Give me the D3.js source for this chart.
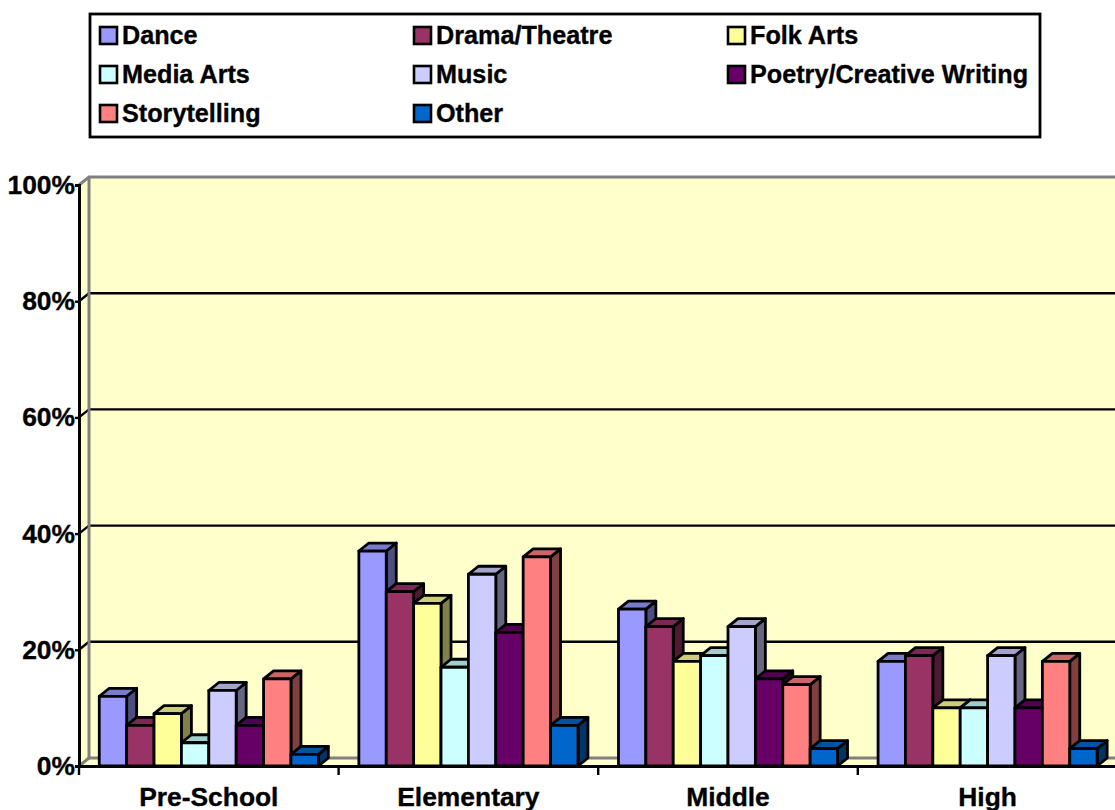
<!DOCTYPE html>
<html>
<head>
<meta charset="utf-8">
<script src="https://cdnjs.cloudflare.com/ajax/libs/d3/7.8.5/d3.min.js"></script>
<style>
body { margin: 0; background: #fff; }
svg { display: block; }
text { font-family: "Liberation Sans", Arial, sans-serif; font-weight: bold; fill: #000; stroke: #000; stroke-width: 0.35px; }
</style>
</head>
<body>
<script>
var levels = ["Pre-School", "Elementary", "Middle", "High"];
var seriesNames = ["Dance", "Drama/Theatre", "Folk Arts", "Media Arts", "Music", "Poetry/Creative Writing", "Storytelling", "Other"];
var seriesColors = ["#9999ff", "#993366", "#ffff99", "#ccffff", "#ccccff", "#660066", "#ff8080", "#0066cc"];
var dance = [12, 37, 27, 18];
var drama = [7, 30, 24, 19];
var folkArts = [9, 28, 18, 10];
var mediaArts = [4, 17, 19, 10];
var music = [13, 33, 24, 19];
var poetry = [7, 23, 15, 10];
var storytelling = [15, 36, 14, 18];
var other = [2, 7, 3, 3];
var yTicks = [0, 20, 40, 60, 80, 100];

var values = [dance, drama, folkArts, mediaArts, music, poetry, storytelling, other];

var width = 1115, height = 810;
var plotLeft = 79, plotRight = 1117.4, plotBottom = 766, plotTop = 185;
var depthX = 10, depthY = 8; // the fake 3d offset

var x = d3.scaleBand().domain(levels).range([plotLeft, plotRight]);
var x1 = d3.scaleBand().domain(seriesNames).range([0, x.bandwidth()]).paddingOuter(0.74);
var y = d3.scaleLinear().domain([0, 100]).range([plotBottom, plotTop]);

var svg = d3.select("body").append("svg")
    .attr("width", width)
    .attr("height", height);

// walls
svg.append("rect")
    .attr("x", plotLeft + depthX)
    .attr("y", plotTop - depthY)
    .attr("width", width - plotLeft - depthX)
    .attr("height", plotBottom - plotTop)
    .attr("fill", "#ffffcc");

svg.append("path")
    .attr("d", "M" + plotLeft + "," + plotTop + "L" + (plotLeft + depthX) + "," + (plotTop - depthY) +
        "V" + (plotBottom - depthY) + "H" + width + "V" + plotBottom + "H" + plotLeft + "Z")
    .attr("fill", "#ffffcc");

// gridlines on the back wall and the stubs on the side wall
svg.selectAll(".grid")
    .data(yTicks.filter(function(d) { return d > 0 && d < 100; }))
    .enter().append("path")
    .attr("class", "grid")
    .attr("d", function(d) {
        return "M" + plotLeft + "," + y(d) + "L" + (plotLeft + depthX) + "," + (y(d) - depthY) + "H" + width;
    })
    .attr("fill", "none")
    .attr("stroke", "#000")
    .attr("stroke-width", 2.4);

// gray edges of the walls
svg.append("path")
    .attr("d", "M" + plotLeft + "," + plotTop + "L" + (plotLeft + depthX) + "," + (plotTop - depthY) + "H" + width)
    .attr("fill", "none")
    .attr("stroke", "#808080")
    .attr("stroke-width", 3);

svg.append("path")
    .attr("d", "M" + (plotLeft + depthX) + "," + (plotTop - depthY) + "V" + (plotBottom - depthY) + "H" + width)
    .attr("fill", "none")
    .attr("stroke", "#808080")
    .attr("stroke-width", 3);

svg.append("path")
    .attr("d", "M" + plotLeft + "," + plotBottom + "L" + (plotLeft + depthX) + "," + (plotBottom - depthY))
    .attr("fill", "none")
    .attr("stroke", "#808080")
    .attr("stroke-width", 3);

// bars, left to right so each one covers the side of the one before
var bars = [];
levels.forEach(function(level, i) {
    seriesNames.forEach(function(name, j) {
        bars.push({level: level, name: name, color: seriesColors[j], value: values[j][i]});
    });
});

var bar = svg.selectAll(".bar")
    .data(bars)
    .enter().append("g")
    .attr("class", "bar")
    .attr("stroke", "#000")
    .attr("stroke-width", 2.8)
    .attr("stroke-linejoin", "round");

function x0(d) { return x(d.level) + x1(d.name); }
function x2(d) { return x0(d) + x1.bandwidth(); }

bar.append("path")
    .attr("d", function(d) {
        return "M" + x2(d) + "," + y(d.value) + "l" + depthX + "," + (-depthY) +
            "V" + (y(0) - depthY) + "L" + x2(d) + "," + y(0) + "Z";
    })
    .attr("fill", function(d) { return d3.interpolateRgb("#000", d.color)(0.5); });

bar.append("path")
    .attr("d", function(d) {
        return "M" + x0(d) + "," + y(d.value) + "l" + depthX + "," + (-depthY) +
            "H" + (x2(d) + depthX) + "L" + x2(d) + "," + y(d.value) + "Z";
    })
    .attr("fill", function(d) { return d3.interpolateRgb("#000", d.color)(0.8); });

bar.append("rect")
    .attr("x", x0)
    .attr("y", function(d) { return y(d.value); })
    .attr("width", x1.bandwidth())
    .attr("height", function(d) { return y(0) - y(d.value); })
    .attr("fill", function(d) { return d.color; });

// axes
var yAxis = d3.axisLeft(y)
    .tickValues(yTicks)
    .tickSize(4)
    .tickPadding(0)
    .tickFormat(function(d) { return d + "%"; });

var yG = svg.append("g")
    .attr("transform", "translate(" + plotLeft + ",0)")
    .call(yAxis);
yG.selectAll("text").style("font-size", "26.4px").attr("dy", ".32em");
yG.selectAll("line").attr("stroke", "#000").attr("stroke-width", 2.4);
yG.select(".domain").attr("stroke", "#000").attr("stroke-width", 3);

var xAxis = d3.axisBottom(x)
    .tickSize(0)
    .tickPadding(21.5);

var xG = svg.append("g")
    .attr("transform", "translate(0," + plotBottom + ")")
    .call(xAxis);
xG.selectAll("text").style("font-size", "26.4px");
xG.select(".domain").attr("stroke", "#000").attr("stroke-width", 3);

xG.selectAll(".sep")
    .data(levels)
    .enter().append("line")
    .attr("class", "sep")
    .attr("x1", function(d) { return x(d); })
    .attr("x2", function(d) { return x(d); })
    .attr("y1", 0)
    .attr("y2", 9)
    .attr("stroke", "#000")
    .attr("stroke-width", 2.4);

// legend
svg.append("rect")
    .attr("x", 90)
    .attr("y", 14)
    .attr("width", 950)
    .attr("height", 123)
    .attr("fill", "#fff")
    .attr("stroke", "#000")
    .attr("stroke-width", 2.8);

var legend = svg.selectAll(".legend")
    .data(seriesNames)
    .enter().append("g")
    .attr("class", "legend")
    .attr("transform", function(d, i) {
        return "translate(" + (100 + (i % 3) * 314) + "," + (35 + Math.floor(i / 3) * 39) + ")";
    });

legend.append("rect")
    .attr("y", -8)
    .attr("width", 17)
    .attr("height", 17)
    .attr("fill", function(d, i) { return seriesColors[i]; })
    .attr("stroke", "#000")
    .attr("stroke-width", 2.6);

legend.append("text")
    .attr("x", 22)
    .attr("dy", ".36em")
    .style("font-size", "25.2px")
    .text(function(d) { return d; });
</script>
</body>
</html>
